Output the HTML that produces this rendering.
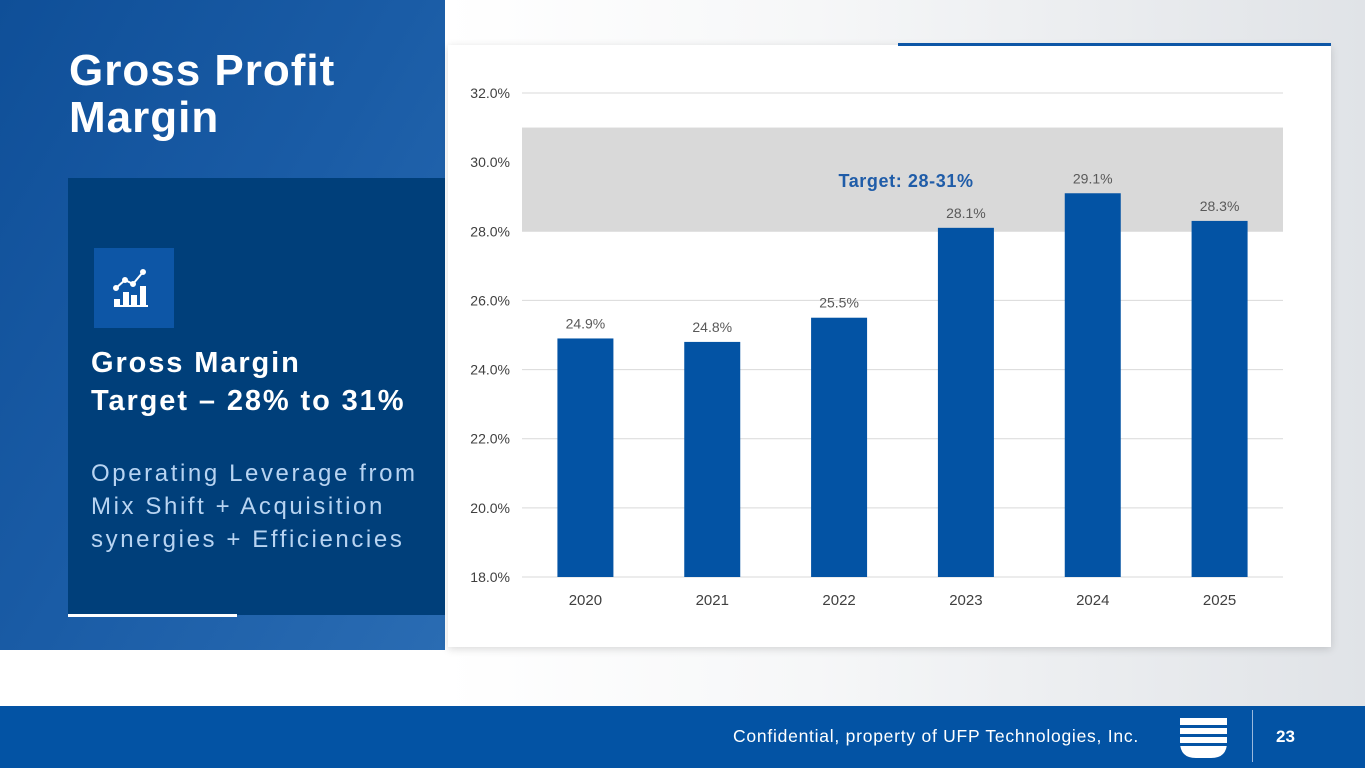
<!DOCTYPE html>
<html><head><meta charset="utf-8"><style>
body{margin:0;width:1365px;height:768px;overflow:hidden;position:relative;font-family:"Liberation Sans",sans-serif;background:#fff}
.abs{position:absolute}
</style></head><body>
<div class="abs" style="left:445px;top:0;width:920px;height:706px;background:linear-gradient(90deg,#fff 0%,#f6f7f8 40%,#e0e3e7 100%)"></div>
<div class="abs" style="left:0;top:0;width:445px;height:650px;background:linear-gradient(120deg,#0f4f98 0%,#1a5ca6 50%,#2a6cb3 100%)"></div>
<div class="abs" style="left:69px;top:47px;color:#fff;font-size:44px;font-weight:bold;line-height:47px;letter-spacing:1px">Gross Profit<br>Margin</div>
<div class="abs" style="left:68px;top:178px;width:377px;height:437px;background:#003f7a"></div>
<div class="abs" style="left:94px;top:248px;width:80px;height:80px;background:#0d56a6">
<svg width="80" height="80"><g fill="#fff" stroke="#fff"><rect x="20" y="51" width="6" height="6" stroke="none"/><rect x="29" y="44" width="6" height="13" stroke="none"/><rect x="37" y="47" width="6" height="10" stroke="none"/><rect x="46" y="38" width="6" height="19" stroke="none"/><rect x="20" y="57" width="34" height="2" stroke="none"/><polyline points="22,40 31,32 39,36 49,24" fill="none" stroke-width="2"/><circle cx="22" cy="40" r="2.5"/><circle cx="31" cy="32" r="2.5"/><circle cx="39" cy="36" r="2.5"/><circle cx="49" cy="24" r="2.5"/></g></svg></div>
<div class="abs" style="left:91px;top:344px;color:#fff;font-size:29px;font-weight:bold;line-height:38px;letter-spacing:1.9px">Gross Margin<br>Target – 28% to 31%</div>
<div class="abs" style="left:91px;top:457px;color:#b8d4f2;font-size:24px;line-height:33px;letter-spacing:2.6px">Operating Leverage from<br>Mix Shift + Acquisition<br>synergies + Efficiencies</div>
<div class="abs" style="left:68px;top:614px;width:169px;height:3px;background:#fff"></div>
<div class="abs" style="left:448px;top:45px;width:883px;height:602px;background:#fff;box-shadow:0 2px 8px rgba(0,0,0,0.15)"></div>
<div class="abs" style="left:898px;top:43px;width:433px;height:3px;background:#0d56a6"></div>
<svg class="abs" style="left:0;top:0" width="1365" height="706" id="chart"></svg>
<div class="abs" style="left:0;top:706px;width:1365px;height:62px;background:#0353a4"></div>
<div class="abs" style="left:733px;top:726px;color:#fff;font-size:17.5px;letter-spacing:0.75px">Confidential, property of UFP Technologies, Inc.</div>
<svg class="abs" style="left:1179px;top:716px" width="50" height="46"><path d="M1,2 H48 V26 Q48,42 32,42 H17 Q1,42 1,26 Z" fill="#fff"/><rect x="0" y="9" width="50" height="3" fill="#0353a4"/><rect x="0" y="18" width="50" height="3" fill="#0353a4"/><rect x="0" y="27" width="50" height="3" fill="#0353a4"/></svg>
<div class="abs" style="left:1252px;top:710px;width:1px;height:52px;background:#9bb9dd"></div>
<div class="abs" style="left:1276px;top:727px;color:#fff;font-size:17px;font-weight:bold">23</div>
<script>
const categories=["2020","2021","2022","2023","2024","2025"];
const values=[24.9,24.8,25.5,28.1,29.1,28.3];
const valueLabels=["24.9%","24.8%","25.5%","28.1%","29.1%","28.3%"];
const yTicks=[18,20,22,24,26,28,30,32];
const targetRange=[28,31];
const NS="http://www.w3.org/2000/svg";
const svg=document.getElementById('chart');
const x0=522,x1=1283,yTop=93,yBot=577,yMin=18,yMax=32;
const y=v=>yBot-(v-yMin)/(yMax-yMin)*(yBot-yTop);
const step=(x1-x0)/categories.length;
const xc=i=>x0+step*(i+0.5);
function mk(t,a){const e=document.createElementNS(NS,t);for(const k in a)e.setAttribute(k,a[k]);svg.appendChild(e);return e;}
const band=mk('rect',{x:x0,y:y(targetRange[1]),width:x1-x0,height:y(targetRange[0])-y(targetRange[1]),fill:'#d9d9d9'});


yTicks.forEach(t=>{
 const l=mk('line',{x1:x0,x2:x1,y1:y(t),y2:y(t),stroke:'#d9d9d9','stroke-width':1});
 
 
 const tx=mk('text',{x:510,y:y(t)+5,'text-anchor':'end','font-size':14,fill:'#404040'});
 tx.textContent=t.toFixed(1)+'%';
 
 
});
const tl=mk('text',{x:906,y:187,'text-anchor':'middle','font-size':18,'font-weight':'bold',fill:'#1f5ca8','letter-spacing':'0.6'});
tl.textContent='Target: '+targetRange[0]+'-'+targetRange[1]+'%';


const bw=56;
values.forEach((v,i)=>{
 const r=mk('rect',{x:xc(i)-bw/2,y:y(v),width:bw,height:yBot-y(v),fill:'#0353a4'});
 
 
 const vl=mk('text',{x:xc(i),y:y(v)-10,'text-anchor':'middle','font-size':14,fill:'#595959'});
 vl.textContent=valueLabels[i];
 
 
 const cl=mk('text',{x:xc(i),y:605,'text-anchor':'middle','font-size':15,fill:'#404040'});
 cl.textContent=categories[i];
 
 
});
</script>
</body></html>
